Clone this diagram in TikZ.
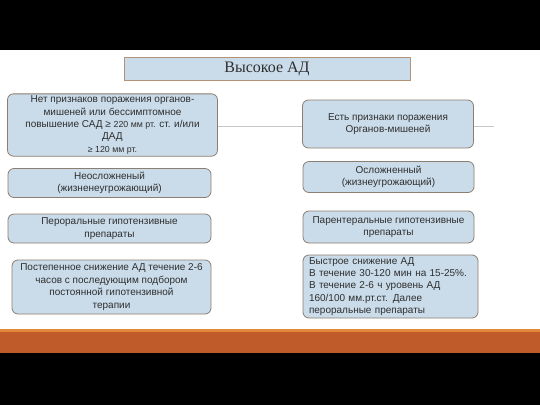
\documentclass[tikz,border=0pt]{standalone}
\usepackage{fontspec}
\setmainfont{Liberation Sans}
\newfontfamily\titlefont{Liberation Serif}
\definecolor{boxfill}{HTML}{CADCEA}
\definecolor{boxdraw}{HTML}{8C7E70}
\definecolor{titledraw}{HTML}{B39378}
\definecolor{txt}{HTML}{2E2E2E}
\definecolor{bandor}{HTML}{BF5A2A}
\definecolor{bandhi}{HTML}{E2883A}
\definecolor{conn}{HTML}{C8C8C8}
\begin{document}
\begin{tikzpicture}[x=1pt,y=-1pt,
  infobox/.style={draw=boxdraw, fill=boxfill, rounded corners=6pt, line width=0.8pt,
    align=center, text=txt, inner sep=2pt, font=\fontsize{10}{12.4}\selectfont},
  titlebox/.style={draw=titledraw, fill=boxfill, line width=0.9pt, text=txt,
    font=\titlefont\fontsize{16}{18}\selectfont},
  link/.style={draw=conn, line width=1pt}]
\useasboundingbox (0,0) rectangle (540,405);
\fill[black] (0,0) rectangle (540,50);
\fill[white] (0,50) rectangle (540,329);
\fill[bandor] (0,329) rectangle (540,353);
\fill[bandhi] (0,329) rectangle (540,331.5);
\fill[black] (0,353) rectangle (540,405);

\node[titlebox, minimum width=286pt, minimum height=23pt] (title) at (267,68.5) {Высокое АД};

\node[infobox, minimum width=210pt, minimum height=61pt] (l1) at (112.5,125)
 {Нет признаков поражения органов-\\мишеней или бессимптомное\\повышение САД ≥ {\fontsize{8.8}{12.4}\selectfont 220 мм рт.} ст. и/или\\ДАД\\{\fontsize{8.8}{12.4}\selectfont ≥ 120 мм рт.}};
\node[infobox, minimum width=171pt, minimum height=48pt] (r1) at (388,124)
 {Есть признаки поражения\\Органов-мишеней};
\coordinate (rend) at (494,126.5);
\draw[link] (l1.east |- 0,126.5) -- (r1.west |- 0,126.5);
\draw[link] (r1.east |- 0,126.5) -- (rend);

\node[infobox, minimum width=203pt, minimum height=29pt] (l2) at (109.5,183)
 {Неосложненый\\(жизненеугрожающий)};
\node[infobox, minimum width=203pt, minimum height=29pt] (l3) at (109.5,228.5)
 {Пероральные гипотензивные\\препараты};
\node[infobox, minimum width=199pt, minimum height=54pt] (l4) at (111.5,287)
 {Постепенное снижение АД течение 2-6\\часов с последующим подбором\\постоянной гипотензивной\\терапии};

\node[infobox, minimum width=171pt, minimum height=31pt] (r2) at (388.5,177)
 {Осложненный\\(жизнеугрожающий)};
\node[infobox, minimum width=171pt, minimum height=32pt] (r3) at (388.5,227)
 {Парентеральные гипотензивные\\препараты};
\node[infobox, align=left, minimum width=175pt, minimum height=63pt, text width=163pt, inner xsep=6pt] (r4) at (390.5,286.5)
 {Быстрое снижение АД\\В течение 30-120 мин на 15-25\%.\\В течение 2-6 ч уровень АД\\160/100 мм.рт.ст. Далее\\пероральные препараты};
\end{tikzpicture}
\end{document}
